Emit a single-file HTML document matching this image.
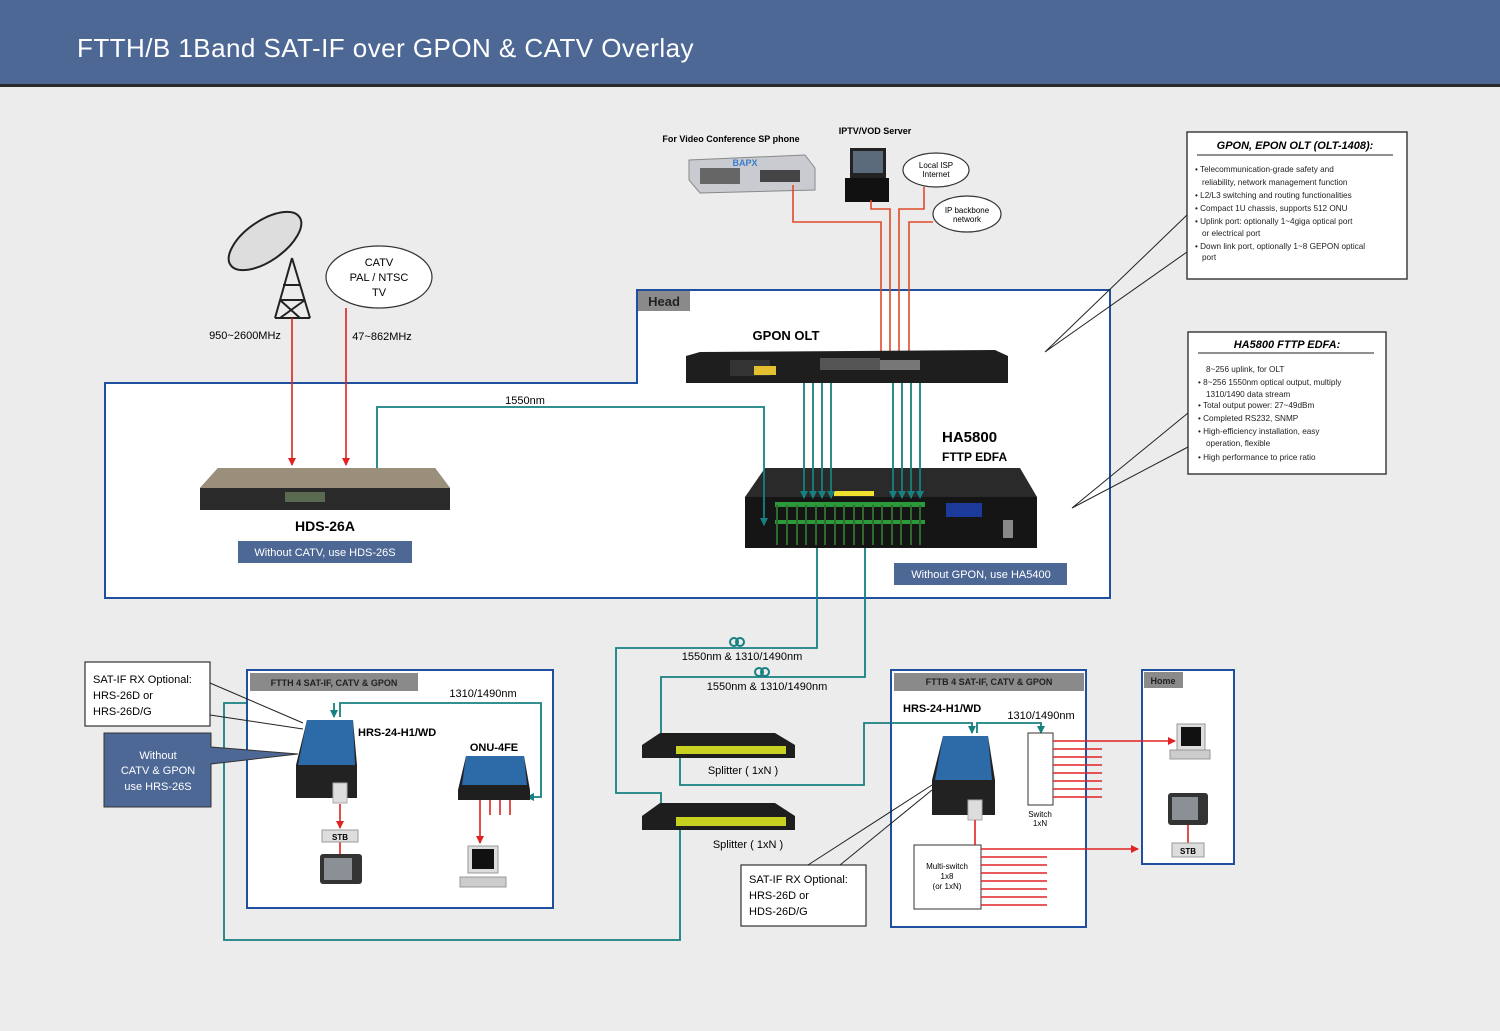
<!DOCTYPE html>
<html><head><meta charset="utf-8"><style>
html,body{margin:0;padding:0;background:#ececec}
svg{display:block}
text{font-family:"Liberation Sans",Arial,sans-serif}
</style></head><body>
<svg width="1500" height="1031" viewBox="0 0 1500 1031" xmlns="http://www.w3.org/2000/svg">
<defs>
<marker id="ar" markerWidth="8" markerHeight="8" refX="7" refY="4" orient="auto" markerUnits="userSpaceOnUse"><path d="M0,0 L8,4 L0,8 z" fill="#e02222"/></marker>
<marker id="at" markerWidth="8" markerHeight="8" refX="7" refY="4" orient="auto" markerUnits="userSpaceOnUse"><path d="M0,0 L8,4 L0,8 z" fill="#178080"/></marker>
</defs>
<rect width="1500" height="1031" fill="#ececec"/>
<rect x="0" y="0" width="1500" height="86" fill="#4e6896"/>
<rect x="0" y="84" width="1500" height="3" fill="#2a2a2a"/>
<text x="77" y="57" fill="#fff" font-size="26" letter-spacing="0.45">FTTH/B 1Band SAT-IF over GPON &amp; CATV Overlay</text>

<!-- Head region -->
<path d="M105,383 H637 V290 H1110 V598 H105 Z" fill="#fff" stroke="#1f4f9f" stroke-width="2"/>
<rect x="638" y="291" width="52" height="20" fill="#8a8a8a"/>
<text x="664" y="306" font-size="13" font-weight="bold" fill="#222" text-anchor="middle">Head</text>

<!-- top devices -->
<text x="731" y="142" font-size="9" font-weight="bold" text-anchor="middle">For Video Conference SP phone</text>
<path d="M689,160 L805,155 L815,168 L815,190 L700,193 L689,180 Z" fill="#c9cbd0" stroke="#888"/>
<rect x="700" y="168" width="40" height="16" fill="#666"/>
<rect x="760" y="170" width="40" height="12" fill="#444"/>
<text x="745" y="166" font-size="9" font-weight="bold" fill="#3a7ccc" text-anchor="middle">BAPX</text>
<text x="875" y="134" font-size="9" font-weight="bold" text-anchor="middle">IPTV/VOD Server</text>
<rect x="850" y="148" width="36" height="30" fill="#222"/><rect x="853" y="151" width="30" height="22" fill="#5b6b7c"/>
<rect x="845" y="178" width="44" height="24" fill="#111"/>
<g fill="#fff" stroke="#333" stroke-width="1.2">
<ellipse cx="936" cy="170" rx="33" ry="17"/>
<ellipse cx="967" cy="214" rx="34" ry="18"/>
<ellipse cx="379" cy="277" rx="53" ry="31"/>
</g>
<text x="936" y="168" font-size="8" text-anchor="middle">Local ISP</text>
<text x="936" y="177" font-size="8" text-anchor="middle">Internet</text>
<text x="967" y="213" font-size="8" text-anchor="middle">IP backbone</text>
<text x="967" y="222" font-size="8" text-anchor="middle">network</text>
<text x="379" y="266" font-size="11" text-anchor="middle">CATV</text>
<text x="379" y="281" font-size="11" text-anchor="middle">PAL / NTSC</text>
<text x="379" y="296" font-size="11" text-anchor="middle">TV</text>

<!-- red lines top -->
<g fill="none" stroke="#e04a2a" stroke-width="1.6">
<path d="M793,185 V222 H881 V360" marker-end="url(#ar)"/>
<path d="M871,200 V209 H890 V360" marker-end="url(#ar)"/>
<path d="M924,187 V209 H899 V360" marker-end="url(#ar)"/>
<path d="M933,222 H909 V360" marker-end="url(#ar)"/>
</g>

<!-- dish -->
<g stroke="#222" stroke-width="2" fill="none">
<ellipse cx="265" cy="241" rx="42" ry="20" transform="rotate(-35 265 241)" fill="#ddd"/>
<path d="M292,258 L275,318 M292,258 L310,318 M280,300 L305,300 M283,285 L300,285 M275,318 L310,318 M280,300 L300,318 M305,300 L280,318"/>
</g>
<text x="245" y="339" font-size="11" text-anchor="middle">950~2600MHz</text>
<text x="382" y="340" font-size="11" text-anchor="middle">47~862MHz</text>
<g stroke="#e02222" stroke-width="1.6" fill="none">
<path d="M292,318 V465" marker-end="url(#ar)"/>
<path d="M346,308 V465" marker-end="url(#ar)"/>
</g>

<!-- GPON OLT -->
<text x="786" y="340" font-size="13" font-weight="bold" text-anchor="middle">GPON OLT</text>
<path d="M700,352 L995,350 L1008,356 L1008,383 L686,383 L686,356 Z" fill="#1e1e1e"/>
<rect x="730" y="360" width="40" height="16" fill="#333"/>
<rect x="754" y="366" width="22" height="9" fill="#e2c030"/>
<rect x="820" y="358" width="60" height="12" fill="#555"/>
<rect x="880" y="360" width="40" height="10" fill="#777"/>

<!-- HA5800 -->
<text x="942" y="442" font-size="15" font-weight="bold">HA5800</text>
<text x="942" y="461" font-size="12" font-weight="bold">FTTP EDFA</text>
<path d="M765,468 L1020,468 L1037,497 L1037,548 L745,548 L745,497 Z" fill="#2a2a2a"/>
<rect x="745" y="497" width="292" height="51" fill="#151515"/>
<rect x="834" y="491" width="40" height="5" fill="#f0e030"/>
<g fill="#2a9a3a">
<rect x="775" y="502" width="150" height="5"/><rect x="775" y="520" width="150" height="4"/>
</g>
<g stroke="#2f6a2f" stroke-width="2">
<path d="M777,505 V545 M787,505 V545 M797,505 V545 M806,505 V545 M816,505 V545 M825,505 V545 M835,505 V545 M844,505 V545 M854,505 V545 M863,505 V545 M873,505 V545 M882,505 V545 M892,505 V545 M901,505 V545 M911,505 V545 M920,505 V545"/>
</g>
<rect x="946" y="503" width="36" height="14" fill="#1b3a9a"/>
<rect x="1003" y="520" width="10" height="18" fill="#888"/>

<!-- teal -->
<g stroke="#178080" stroke-width="1.8" fill="none">
<path d="M804,383 V498" marker-end="url(#at)"/><path d="M813,383 V498" marker-end="url(#at)"/>
<path d="M822,383 V498" marker-end="url(#at)"/><path d="M831,383 V498" marker-end="url(#at)"/>
<path d="M893,383 V498" marker-end="url(#at)"/><path d="M902,383 V498" marker-end="url(#at)"/>
<path d="M911,383 V498" marker-end="url(#at)"/><path d="M920,383 V498" marker-end="url(#at)"/>
<path d="M377,468 V407 H764 V525" marker-end="url(#at)"/>
<path d="M817,548 V648 H616 V793 H661 V820" marker-end="url(#at)"/>
<path d="M865,548 V677 H661 V748" marker-end="url(#at)"/>
<path d="M680,758 V785 H864 V723 H972 V733" marker-end="url(#at)"/>
<path d="M977,733 V723 H1041 V733" marker-end="url(#at)"/>
<path d="M680,830 V940 H224 V703 H334 V717" marker-end="url(#at)"/>
<path d="M340,717 V703 H541 V797 H527" marker-end="url(#at)"/>
</g>
<text x="525" y="404" font-size="11" text-anchor="middle">1550nm</text>
<g fill="none" stroke="#178080" stroke-width="2"><circle cx="734" cy="642" r="4"/><circle cx="740" cy="642" r="4"/><circle cx="759" cy="672" r="4"/><circle cx="765" cy="672" r="4"/></g>
<text x="742" y="660" font-size="11" text-anchor="middle">1550nm &amp; 1310/1490nm</text>
<text x="767" y="690" font-size="11" text-anchor="middle">1550nm &amp; 1310/1490nm</text>

<!-- HDS-26A -->
<path d="M218,468 L435,468 L450,488 L450,510 L200,510 L200,488 Z" fill="#2a2a2a"/>
<path d="M218,468 L435,468 L450,488 L200,488 Z" fill="#9a8f7a"/>
<rect x="285" y="492" width="40" height="10" fill="#5a6a50"/>
<text x="325" y="531" font-size="14" font-weight="bold" text-anchor="middle">HDS-26A</text>
<rect x="238" y="541" width="174" height="22" fill="#4e6896"/>
<text x="325" y="556" font-size="11" fill="#fff" text-anchor="middle">Without CATV, use HDS-26S</text>
<rect x="894" y="563" width="173" height="22" fill="#4e6896"/>
<text x="981" y="578" font-size="11" fill="#fff" text-anchor="middle">Without GPON, use HA5400</text>

<!-- callouts right -->
<g fill="#fff" stroke="#333" stroke-width="1.4">
<rect x="1187" y="132" width="220" height="147"/>
<rect x="1188" y="332" width="198" height="142"/>
</g>
<g stroke="#222" stroke-width="1" fill="none">
<path d="M1187,215 L1045,352 L1187,252"/>
<path d="M1188,413 L1072,508 L1188,447"/>
<path d="M1197,155 H1393 M1198,353 H1374"/>
</g>
<text x="1295" y="149" font-size="11" font-weight="bold" font-style="italic" text-anchor="middle">GPON, EPON OLT  (OLT-1408):</text>
<g font-size="8.2" fill="#222">
<text x="1195" y="172">•  Telecommunication-grade safety and</text>
<text x="1202" y="185">reliability, network management function</text>
<text x="1195" y="198">•  L2/L3 switching and routing functionalities</text>
<text x="1195" y="211">•  Compact 1U chassis, supports 512 ONU</text>
<text x="1195" y="224">•  Uplink port: optionally 1~4giga optical port</text>
<text x="1202" y="236">or electrical port</text>
<text x="1195" y="249">•  Down link port, optionally 1~8 GEPON optical</text>
<text x="1202" y="260">port</text>
</g>
<text x="1287" y="348" font-size="11" font-weight="bold" font-style="italic" text-anchor="middle">HA5800 FTTP EDFA:</text>
<g font-size="8.2" fill="#222">
<text x="1206" y="372">8~256 uplink, for OLT</text>
<text x="1198" y="385">•  8~256 1550nm optical output, multiply</text>
<text x="1206" y="397">1310/1490 data stream</text>
<text x="1198" y="408">•  Total output power: 27~49dBm</text>
<text x="1198" y="421">•  Completed RS232, SNMP</text>
<text x="1198" y="434">•  High-efficiency installation, easy</text>
<text x="1206" y="446">operation, flexible</text>
<text x="1198" y="460">•  High performance to price ratio</text>
</g>

<!-- splitters -->
<path d="M660,733 L775,733 L795,745 L795,758 L642,758 L642,745 Z" fill="#1e1e1e"/>
<rect x="676" y="746" width="110" height="8" fill="#c8d020"/>
<path d="M660,803 L775,803 L795,816 L795,830 L642,830 L642,816 Z" fill="#1e1e1e"/>
<rect x="676" y="817" width="110" height="9" fill="#c8d020"/>
<text x="743" y="774" font-size="11" text-anchor="middle">Splitter ( 1xN )</text>
<text x="748" y="848" font-size="11" text-anchor="middle">Splitter ( 1xN )</text>

<!-- FTTH box -->
<rect x="247" y="670" width="306" height="238" fill="#fff" stroke="#1f4f9f" stroke-width="2"/>
<rect x="250" y="673" width="168" height="18" fill="#8a8a8a"/>
<text x="334" y="686" font-size="9" font-weight="bold" fill="#222" text-anchor="middle">FTTH     4 SAT-IF,  CATV  &amp;  GPON</text>
<text x="483" y="697" font-size="11" text-anchor="middle">1310/1490nm</text>
<g stroke="#178080" stroke-width="1.8" fill="none">
<path d="M334,703 V717" marker-end="url(#at)"/>
<path d="M340,717 V703 H541 V797 H527" marker-end="url(#at)"/>
</g>
<path d="M307,720 L353,720 L357,765 L357,798 L296,798 L296,765 Z" fill="#222"/>
<path d="M307,720 L353,720 L355,765 L298,765 Z" fill="#2d6aa8"/>
<rect x="333" y="783" width="14" height="20" fill="#ddd" stroke="#aaa"/>
<text x="358" y="736" font-size="11" font-weight="bold">HRS-24-H1/WD</text>
<g stroke="#e02222" stroke-width="1.6" fill="none"><path d="M340,804 V828" marker-end="url(#ar)"/><path d="M340,842 V854"/></g>
<rect x="322" y="830" width="36" height="12" fill="#ddd" stroke="#999"/>
<text x="340" y="840" font-size="8" font-weight="bold" text-anchor="middle">STB</text>
<rect x="320" y="854" width="42" height="30" rx="3" fill="#333"/><rect x="324" y="858" width="28" height="22" fill="#8a9096"/>
<text x="494" y="751" font-size="11" font-weight="bold" text-anchor="middle">ONU-4FE</text>
<path d="M466,756 L524,756 L530,790 L530,800 L458,800 L458,790 Z" fill="#1f1f1f"/>
<path d="M466,756 L524,756 L527,785 L462,785 Z" fill="#2d6aa8"/>
<g stroke="#e02222" stroke-width="1.6" fill="none"><path d="M480,800 V843" marker-end="url(#ar)"/><path d="M490,800 V815 M500,800 V815 M510,800 V815"/></g>
<rect x="468" y="846" width="30" height="27" fill="#ddd" stroke="#999"/><rect x="472" y="849" width="22" height="20" fill="#111"/>
<rect x="460" y="877" width="46" height="10" fill="#ccc" stroke="#999"/>

<!-- left callouts -->
<rect x="85" y="662" width="125" height="64" fill="#fff" stroke="#333" stroke-width="1.2"/>
<g stroke="#222" stroke-width="1"><path d="M210,683 L303,723 M210,715 L303,729"/></g>
<text x="93" y="683" font-size="11">SAT-IF RX Optional:</text>
<text x="93" y="699" font-size="11">HRS-26D or</text>
<text x="93" y="715" font-size="11">HRS-26D/G</text>
<path d="M104,733 H211 V747 L298,754 L211,764 V807 H104 Z" fill="#4e6896" stroke="#333"/>
<text x="158" y="759" font-size="11" fill="#fff" text-anchor="middle">Without</text>
<text x="158" y="774" font-size="11" fill="#fff" text-anchor="middle">CATV &amp; GPON</text>
<text x="158" y="790" font-size="11" fill="#fff" text-anchor="middle">use HRS-26S</text>

<!-- Home box -->
<rect x="1142" y="670" width="92" height="194" fill="#fff" stroke="#1f4f9f" stroke-width="2"/>
<rect x="1144" y="672" width="39" height="16" fill="#8a8a8a"/>
<text x="1163" y="684" font-size="9" font-weight="bold" fill="#222" text-anchor="middle">Home</text>
<rect x="1177" y="724" width="28" height="26" fill="#ddd" stroke="#999"/><rect x="1181" y="727" width="20" height="19" fill="#111"/>
<rect x="1170" y="750" width="40" height="9" fill="#ccc" stroke="#999"/>
<rect x="1168" y="793" width="40" height="32" rx="3" fill="#333"/><rect x="1172" y="797" width="26" height="23" fill="#8a9096"/>
<path d="M1188,825 V843" stroke="#e02222" stroke-width="1.6"/>
<rect x="1172" y="843" width="32" height="14" fill="#ddd" stroke="#999"/>
<text x="1188" y="854" font-size="8" font-weight="bold" text-anchor="middle">STB</text>

<!-- FTTB box -->
<rect x="891" y="670" width="195" height="257" fill="#fff" stroke="#1f4f9f" stroke-width="2"/>
<rect x="894" y="673" width="190" height="18" fill="#8a8a8a"/>
<text x="989" y="685" font-size="9" font-weight="bold" fill="#222" text-anchor="middle">FTTB     4 SAT-IF,  CATV  &amp;  GPON</text>
<text x="903" y="712" font-size="11" font-weight="bold">HRS-24-H1/WD</text>
<text x="1041" y="719" font-size="11" text-anchor="middle">1310/1490nm</text>
<g stroke="#178080" stroke-width="1.8" fill="none">
<path d="M891,723 H972 V733" marker-end="url(#at)"/>
<path d="M977,733 V723 H1041 V733" marker-end="url(#at)"/>
</g>
<path d="M943,736 L988,736 L995,780 L995,815 L932,815 L932,780 Z" fill="#222"/>
<path d="M943,736 L988,736 L992,780 L935,780 Z" fill="#2d6aa8"/>
<rect x="968" y="800" width="14" height="20" fill="#ddd" stroke="#aaa"/>
<rect x="1028" y="733" width="25" height="72" fill="#fff" stroke="#333"/>
<text x="1040" y="817" font-size="8" text-anchor="middle">Switch</text>
<text x="1040" y="826" font-size="8" text-anchor="middle">1xN</text>
<rect x="914" y="845" width="67" height="64" fill="#fff" stroke="#333"/>
<text x="947" y="869" font-size="8" text-anchor="middle">Multi-switch</text>
<text x="947" y="879" font-size="8" text-anchor="middle">1x8</text>
<text x="947" y="889" font-size="8" text-anchor="middle">(or 1xN)</text>
<g stroke="#e02222" stroke-width="1.6" fill="none">
<path d="M1053,741 H1175" marker-end="url(#ar)"/>
<path d="M1053,749 H1102 M1053,757 H1102 M1053,765 H1102 M1053,773 H1102 M1053,781 H1102 M1053,789 H1102 M1053,797 H1102"/>
<path d="M975,820 V845"/>
<path d="M981,849 H1138" marker-end="url(#ar)"/>
<path d="M981,857 H1047 M981,865 H1047 M981,873 H1047 M981,881 H1047 M981,889 H1047 M981,897 H1047 M981,905 H1047"/>
</g>
<rect x="741" y="865" width="125" height="61" fill="#fff" stroke="#333" stroke-width="1.2"/>
<g stroke="#222" stroke-width="1"><path d="M808,865 L932,785 M840,865 L932,790"/></g>
<text x="749" y="883" font-size="11">SAT-IF RX Optional:</text>
<text x="749" y="899" font-size="11">HRS-26D or</text>
<text x="749" y="915" font-size="11">HDS-26D/G</text>
</svg>
</body></html>
